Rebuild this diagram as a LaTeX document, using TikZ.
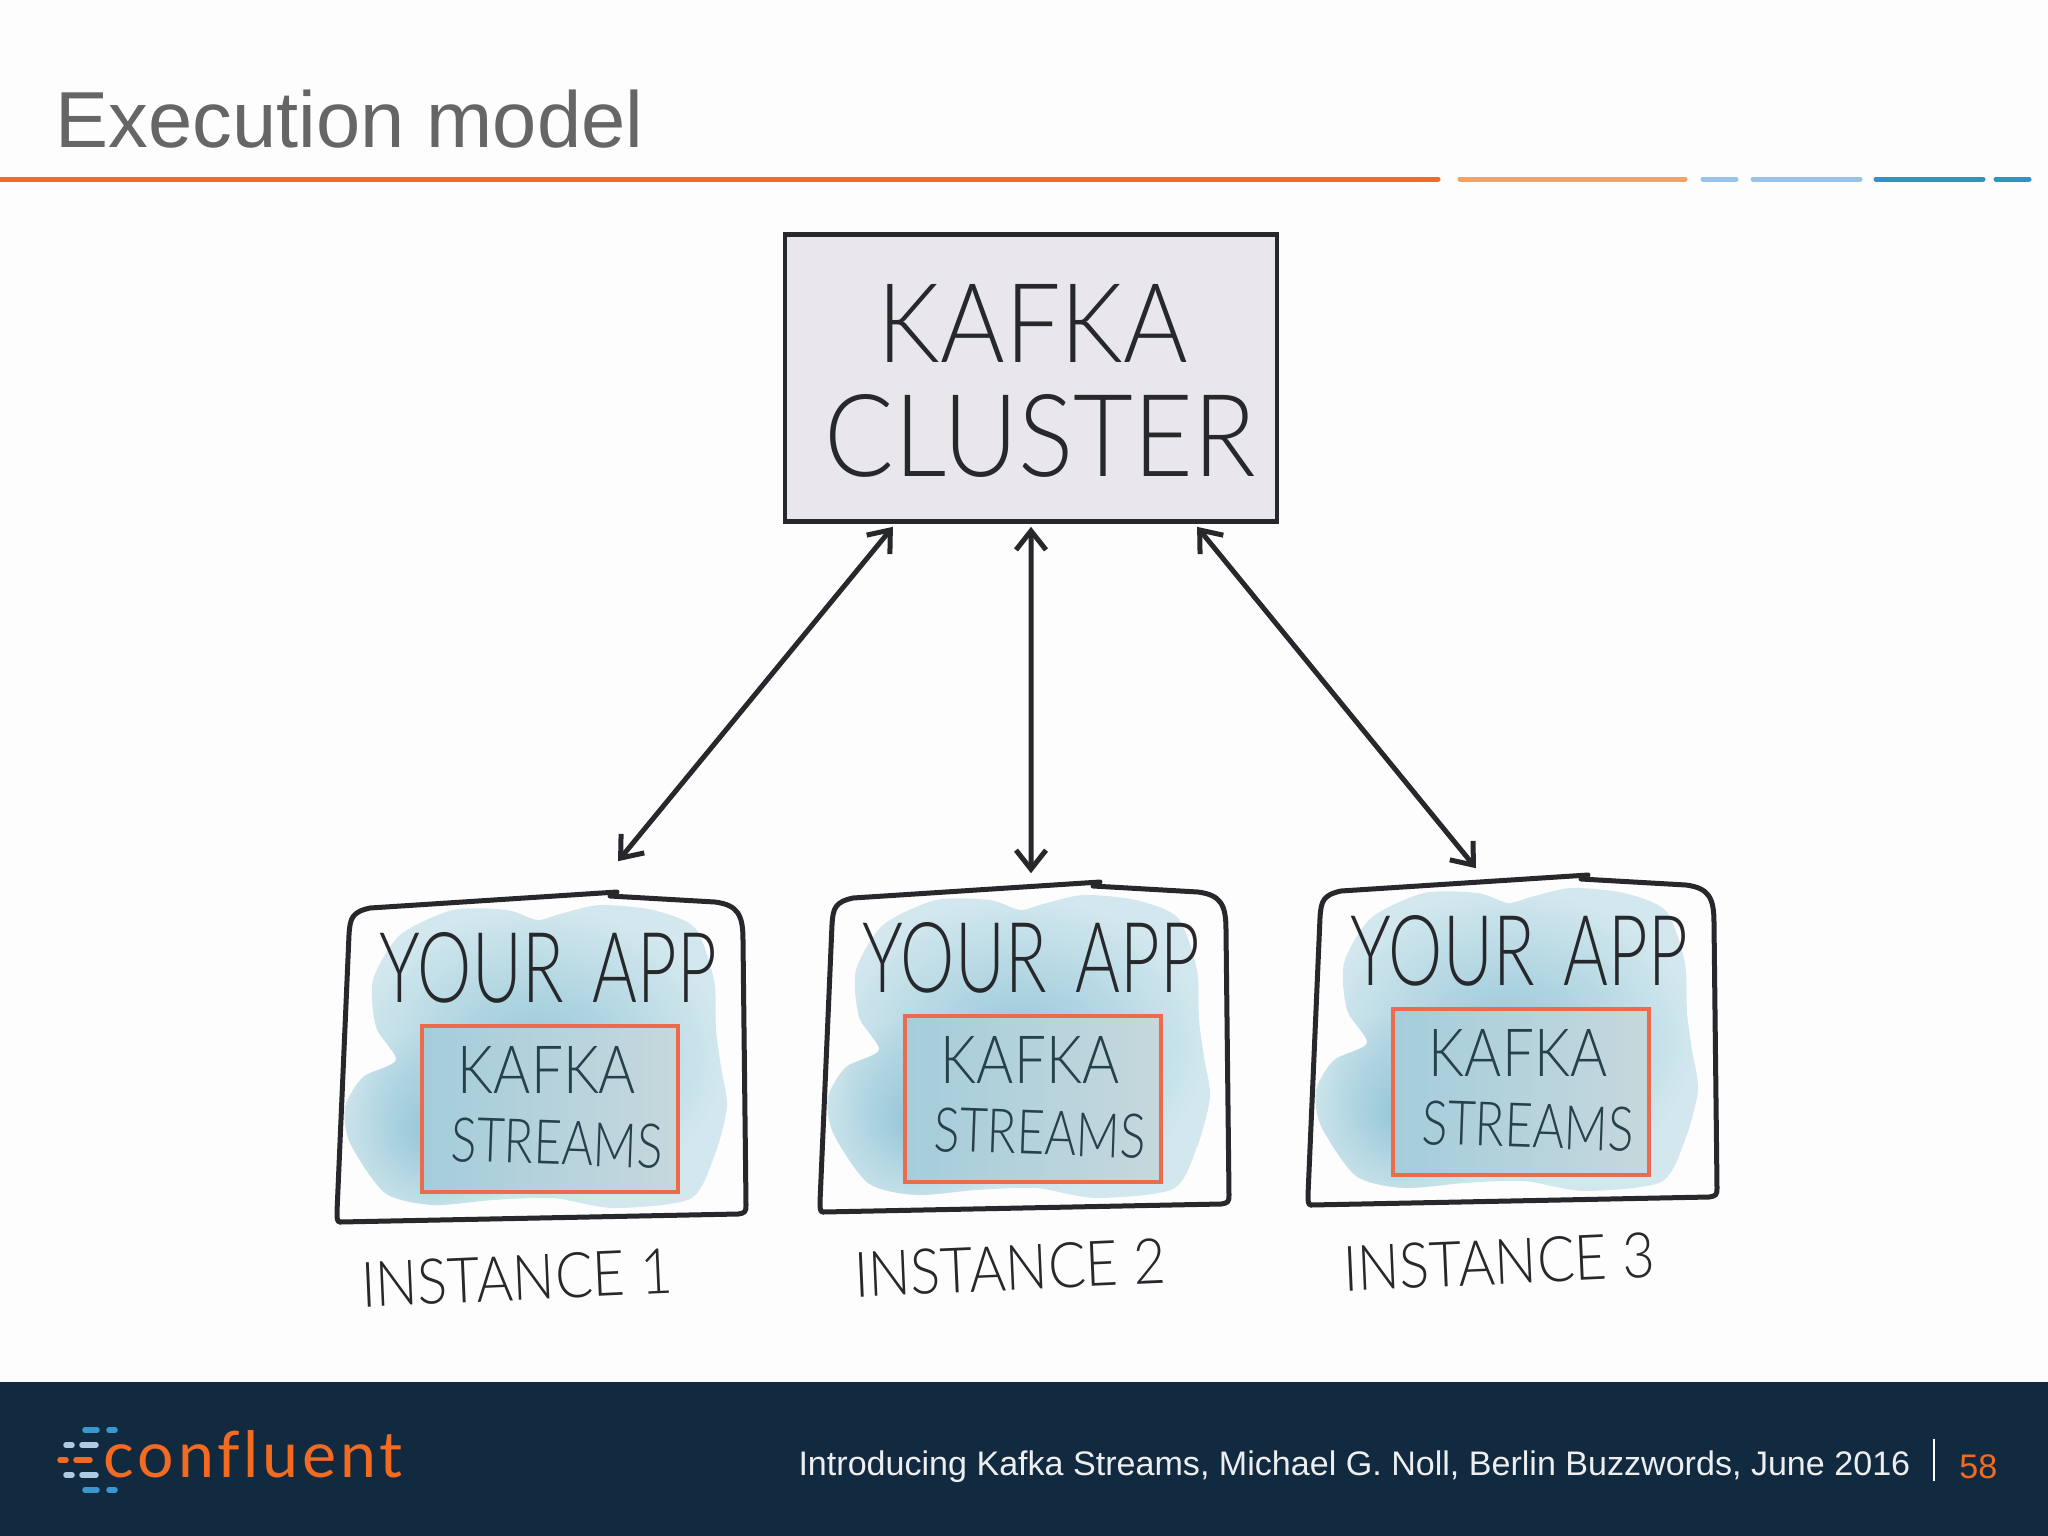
\documentclass[tikz,border=0pt]{standalone}
\usepackage{fontspec}
\usetikzlibrary{arrows.meta,fadings}
\setmainfont{Liberation Sans}
\newfontfamily\handfont{Lato Light}
\newfontfamily\logofont[LetterSpace=6,Ligatures=NoCommon]{Lato}
\definecolor{slidebg}{HTML}{FEFDFE}
\definecolor{titlegray}{HTML}{666666}
\definecolor{barorange}{HTML}{F26B21}
\definecolor{barpeach}{HTML}{F7A263}
\definecolor{barsky}{HTML}{98C2E6}
\definecolor{barblue}{HTML}{2B96C2}
\definecolor{footnavy}{HTML}{122A40}
\definecolor{logoblue}{HTML}{3B97CF}
\definecolor{logopale}{HTML}{AFCBE3}
\definecolor{inkdark}{HTML}{26282B}
\definecolor{inkteal}{HTML}{27414C}
\definecolor{clusterfill}{HTML}{E9E7EB}
\definecolor{streamline}{HTML}{EC6B4D}
\definecolor{washdeep}{HTML}{96C7D8}
\definecolor{washpale}{HTML}{D3E8EE}
\definecolor{boxleft}{HTML}{A4CDDB}
\definecolor{boxright}{HTML}{C6D8DC}
\tikzfading[name=washfade, inner color=transparent!0, outer color=transparent!100]
\newcommand{\handtext}[3]{\resizebox{#1cm}{#2cm}{\handfont #3}}
\newcommand{\washplot}{plot[smooth cycle, tension=0.45] coordinates {(453,910) (507,910) (537,920) (560,914) (600,905) (653,910) (695,928) (714,980) (716,1030) (721,1067) (727,1107) (714,1157) (690,1199) (613,1208) (553,1198) (493,1200) (433,1205) (385,1193) (350,1143) (345,1107) (363,1077) (396,1060) (376,1027) (373,980) (400,935)}}
\tikzset{
  bar/.style={line width=0.05cm, line cap=round},
  logodash/.style={line width=0.055cm, line cap=round},
  handlabel/.style={inner sep=0pt, text=inkdark},
  streamlabel/.style={inner sep=0pt, text=inkteal},
  link/.style={line width=0.05cm, draw=inkdark, {Straight Barb[length=0.19cm,width=0.3cm,line width=0.05cm]}-{Straight Barb[length=0.19cm,width=0.3cm,line width=0.05cm]}},
  streamsbox/.style={draw=streamline, line width=0.04cm, minimum width=2.56cm, minimum height=1.65cm, left color=boxleft, right color=boxright, inner sep=0pt},
  appbox/.style={inner sep=0pt, minimum width=3.9cm, minimum height=3.3cm},
  appframe/.pic={
    \shade[inner color=washdeep, outer color=washpale] \washplot;
    \begin{scope}
      \clip \washplot;
      \fill[washdeep, path fading=washfade] (430,1130) circle (100);
    \end{scope}
    \draw[line width=0.05cm, draw=inkdark, line cap=round, line join=round]
      (340,1222) .. controls (337,1222) and (337,1218) .. (337,1212) -- (349,935) .. controls (350,918) and (352,912) .. (370,908) -- (617,892);
    \draw[line width=0.05cm, draw=inkdark, line cap=round, line join=round]
      (610,896) -- (715,902) .. controls (738,905) and (743,915) .. (743,940) -- (746,1205) .. controls (746,1212) and (745,1213) .. (738,1214) -- (340,1222);
  }
}
\begin{document}
\begin{tikzpicture}[x=0.01cm,y=-0.01cm]
  \useasboundingbox (0,0) rectangle (2048,1536);
  \fill[slidebg] (0,0) rectangle (2048,1536);
  % header
  \node[anchor=west, inner sep=0pt, text=titlegray, font=\fontsize{22.6pt}{26pt}\selectfont] (title) at (55,119) {Execution model};
  \draw[bar, barorange] (0,179) -- (1438,179);
  \draw[bar, barpeach] (1460,179) -- (1685,179);
  \draw[bar, barsky] (1703,179) -- (1736,179);
  \draw[bar, barsky] (1753,179) -- (1860,179);
  \draw[bar, barblue] (1876,179) -- (1983,179);
  \draw[bar, barblue] (1996,179) -- (2029,179);
  % cluster
  \node[draw=inkdark, line width=0.045cm, fill=clusterfill, minimum width=4.92cm, minimum height=2.87cm, inner sep=0pt] (kafka) at (1031,378) {};
  \node[handlabel] (kafkaword) at (1033,323) {\handtext{3.10}{0.78}{KAFKA}};
  \node[handlabel] (clusterword) at (1040,436) {\handtext{4.31}{0.82}{CLUSTER}};
  % instances
  \pic at (0,0) {appframe};
  \pic at (483,-10) {appframe};
  \pic at (971,-17) {appframe};
  \node[appbox] (app1) at (541,1057) {};
  \node[appbox] (app2) at (1024,1047) {};
  \node[appbox] (app3) at (1512,1040) {};
  \node[streamsbox] (streams1) at (550,1109) {};
  \node[streamsbox] (streams2) at (1033,1099) {};
  \node[streamsbox] (streams3) at (1521,1092) {};
  \node[handlabel] (your1) at (548,968) {\handtext{3.37}{0.70}{YOUR\hspace{0.15em} APP}};
  \node[handlabel] (your2) at (1031,958) {\handtext{3.37}{0.70}{YOUR\hspace{0.15em} APP}};
  \node[handlabel] (your3) at (1519,951) {\handtext{3.37}{0.70}{YOUR\hspace{0.15em} APP}};
  \node[streamlabel] (word1) at (547,1070) {\handtext{1.78}{0.47}{KAFKA}};
  \node[streamlabel] (word2) at (1030,1060) {\handtext{1.78}{0.47}{KAFKA}};
  \node[streamlabel] (word3) at (1518,1053) {\handtext{1.78}{0.47}{KAFKA}};
  \node[streamlabel, rotate=-2] (flow1) at (557,1143) {\handtext{2.12}{0.44}{STREAMS}};
  \node[streamlabel, rotate=-2] (flow2) at (1040,1133) {\handtext{2.12}{0.44}{STREAMS}};
  \node[streamlabel, rotate=-2] (flow3) at (1528,1126) {\handtext{2.12}{0.44}{STREAMS}};
  \node[handlabel, rotate=2.5] (inst1) at (517,1278) {\handtext{3.12}{0.45}{INSTANCE 1}};
  \node[handlabel, rotate=2.5] (inst2) at (1010,1268) {\handtext{3.12}{0.45}{INSTANCE 2}};
  \node[handlabel, rotate=2.5] (inst3) at (1499,1262) {\handtext{3.12}{0.45}{INSTANCE 3}};
  % connectors
  \draw[link] ([xshift=-1.38cm,yshift=-0.03cm]kafka.south) -- ([xshift=0.77cm,yshift=0.30cm]app1.north);
  \draw[link] ([yshift=-0.03cm]kafka.south) -- ([xshift=0.07cm,yshift=0.08cm]app2.north);
  \draw[link] ([xshift=1.66cm,yshift=-0.03cm]kafka.south) -- ([xshift=-0.36cm,yshift=0.06cm]app3.north);
  % footer
  \fill[footnavy] (0,1382) rectangle (2048,1536);
  \draw[logodash, logoblue] (85,1430) -- (97,1430);
  \draw[logodash, logoblue] (109,1430) -- (115,1430);
  \draw[logodash, logopale] (66,1445) -- (72,1445);
  \draw[logodash, logopale] (82,1445) -- (96,1445);
  \draw[logodash, barorange] (60,1460) -- (66,1460);
  \draw[logodash, barorange] (76,1460) -- (90,1460);
  \draw[logodash, logopale] (66,1475) -- (72,1475);
  \draw[logodash, logopale] (82,1475) -- (96,1475);
  \draw[logodash, logoblue] (85,1490) -- (97,1490);
  \draw[logodash, logoblue] (109,1490) -- (115,1490);
  \node[anchor=west, inner sep=0pt, text=barorange] (logo) at (103,1454) {\resizebox{2.99cm}{0.47cm}{\logofont confluent}};
  \node[anchor=east, inner sep=0pt, text=white!92!footnavy, font=\fontsize{9.69pt}{11pt}\selectfont] (credit) at (1911,1467) {Introducing Kafka Streams, Michael G. Noll, Berlin Buzzwords, June 2016};
  \draw[line width=0.02cm, white] (1934,1439) -- (1934,1481);
  \node[anchor=east, inner sep=0pt, text=barorange, font=\fontsize{9.69pt}{11pt}\selectfont] (page) at (1998,1467) {58};
\end{tikzpicture}
\end{document}
